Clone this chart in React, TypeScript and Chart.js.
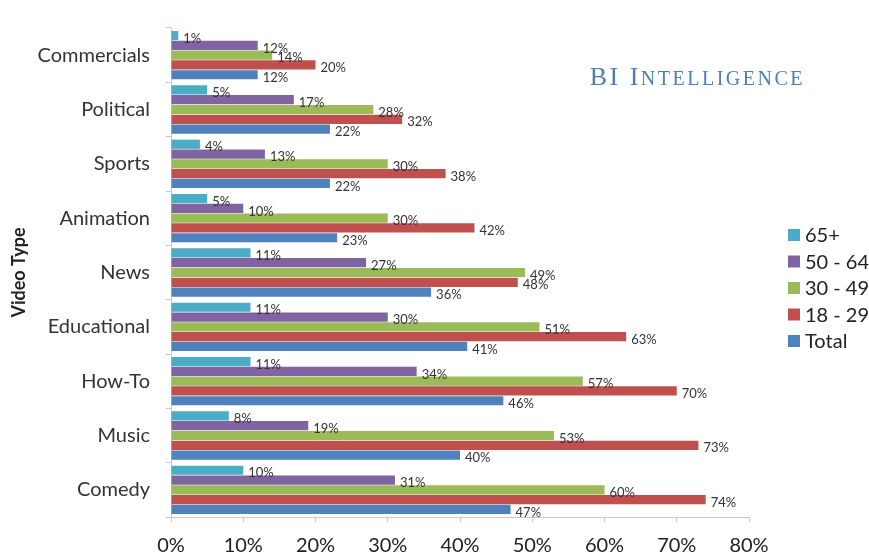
import React, { useEffect, useRef } from "react";
import { Chart, registerables } from "chart.js";

Chart.register(...registerables);

const categories = ["Commercials", "Political", "Sports", "Animation", "News", "Educational", "How-To", "Music", "Comedy"];
const age65plus = [1, 5, 4, 5, 11, 11, 11, 8, 10];
const age50to64 = [12, 17, 13, 10, 27, 30, 34, 19, 31];
const age30to49 = [14, 28, 30, 30, 49, 51, 57, 53, 60];
const age18to29 = [20, 32, 38, 42, 48, 63, 70, 73, 74];
const totalAll = [12, 22, 22, 23, 36, 41, 46, 40, 47];
const seriesLabels = ["65+", "50 - 64", "30 - 49", "18 - 29", "Total"];
const seriesColors = ["#4BACC6", "#8064A2", "#9BBB59", "#C0504D", "#4F81BD"];
const xTickLabels = ["0%", "10%", "20%", "30%", "40%", "50%", "60%", "70%", "80%"];
const axisTitle = "Video Type";
const brandBig = "BI I";
const brandSmall = "NTELLIGENCE";

const FONT = "Lato, 'Open Sans', 'DejaVu Sans', sans-serif";

const valueLabelPlugin = {
  id: "valueLabels",
  afterDatasetsDraw(chart: any) {
    const ctx = chart.ctx;
    ctx.save();
    ctx.font = `13px ${FONT}`;
    ctx.fillStyle = "#333333";
    ctx.textBaseline = "middle";
    ctx.textAlign = "left";
    chart.data.datasets.forEach((ds: any, i: number) => {
      const meta = chart.getDatasetMeta(i);
      meta.data.forEach((el: any, j: number) => {
        ctx.fillText(ds.data[j] + "%", el.x + 5, el.y + 3);
      });
    });
    ctx.restore();
  },
};

const customLegendPlugin = {
  id: "customLegend",
  afterDraw(chart: any) {
    const ctx = chart.ctx;
    ctx.save();
    ctx.font = `20px ${FONT}`;
    ctx.textBaseline = "middle";
    ctx.textAlign = "left";
    const x = chart.chartArea.right + 39;
    const y0 = 235;
    const step = 26.5;
    chart.data.datasets.forEach((ds: any, i: number) => {
      const cy = y0 + i * step;
      ctx.fillStyle = ds.backgroundColor;
      ctx.fillRect(x, cy - 6, 12, 12);
      ctx.fillStyle = "#222222";
      ctx.fillText(ds.label, x + 17, cy + 1);
    });
    ctx.restore();
  },
};

const brandPlugin = {
  id: "brand",
  afterDraw(chart: any) {
    const ctx = chart.ctx;
    ctx.save();
    ctx.fillStyle = "#4E80B2";
    ctx.textBaseline = "alphabetic";
    ctx.textAlign = "left";
    (ctx as any).letterSpacing = "2.5px";
    const bigFont = "26px 'Liberation Serif', 'DejaVu Serif', serif";
    const smallFont = "20px 'Liberation Serif', 'DejaVu Serif', serif";
    ctx.font = bigFont;
    const w1 = ctx.measureText(brandBig).width;
    ctx.font = smallFont;
    const w2 = ctx.measureText(brandSmall).width;
    const right = 805;
    const baseline = 85;
    const start = right - w1 - w2;
    ctx.font = bigFont;
    ctx.fillText(brandBig, start, baseline);
    ctx.font = smallFont;
    ctx.fillText(brandSmall, start + w1, baseline);
    ctx.restore();
  },
};

export default function App() {
  const canvasRef = useRef<HTMLCanvasElement | null>(null);

  useEffect(() => {
    if (!canvasRef.current) return;
    const series = [age65plus, age50to64, age30to49, age18to29, totalAll];
    const chart = new Chart(canvasRef.current, {
      type: "bar",
      data: {
        labels: categories,
        datasets: series.map((d, i) => ({
          label: seriesLabels[i],
          data: d,
          backgroundColor: seriesColors[i],
          borderWidth: 0,
          categoryPercentage: 0.9,
          barPercentage: 0.94,
        })),
      },
      options: {
        indexAxis: "y",
        animation: false,
        responsive: false,
        devicePixelRatio: 1,
        layout: { padding: { top: 16, right: 120, left: 0, bottom: 0 } },
        plugins: {
          legend: { display: false },
          tooltip: { enabled: false },
          title: { display: false },
        },
        scales: {
          x: {
            min: 0,
            max: 80,
            ticks: {
              stepSize: 10,
              color: "#222222",
              font: { family: FONT, size: 20 },
              padding: 12,
              callback: (_v: any, i: number) => xTickLabels[i],
            },
            grid: { display: true, drawOnChartArea: false, drawTicks: true, tickLength: 5, color: "#C8C8C8" },
            border: { display: true, color: "#C8C8C8" },
            afterFit: (s: any) => { s.height = 37; },
          },
          y: {
            ticks: {
              color: "#333333",
              font: { family: FONT, size: 20 },
              padding: 16,
            },
            grid: { display: true, drawOnChartArea: false, drawTicks: true, tickLength: 5, color: "#C8C8C8", offset: true },
            border: { display: true, color: "#C8C8C8" },
            title: {
              display: true,
              text: axisTitle,
              color: "#222222",
              font: { family: FONT, size: 18, weight: "bold" },
              padding: { top: 8, bottom: 0 },
            },
            afterFit: (s: any) => { s.width = 171; },
          },
        },
      },
      plugins: [valueLabelPlugin, customLegendPlugin, brandPlugin],
    });
    return () => chart.destroy();
  }, []);

  return (
    <div style={{ position: "absolute", left: 0, top: 0, width: 869, height: 554, background: "#ffffff" }}>
      <canvas ref={canvasRef} width={869} height={554} style={{ display: "block" }} />
    </div>
  );
}
